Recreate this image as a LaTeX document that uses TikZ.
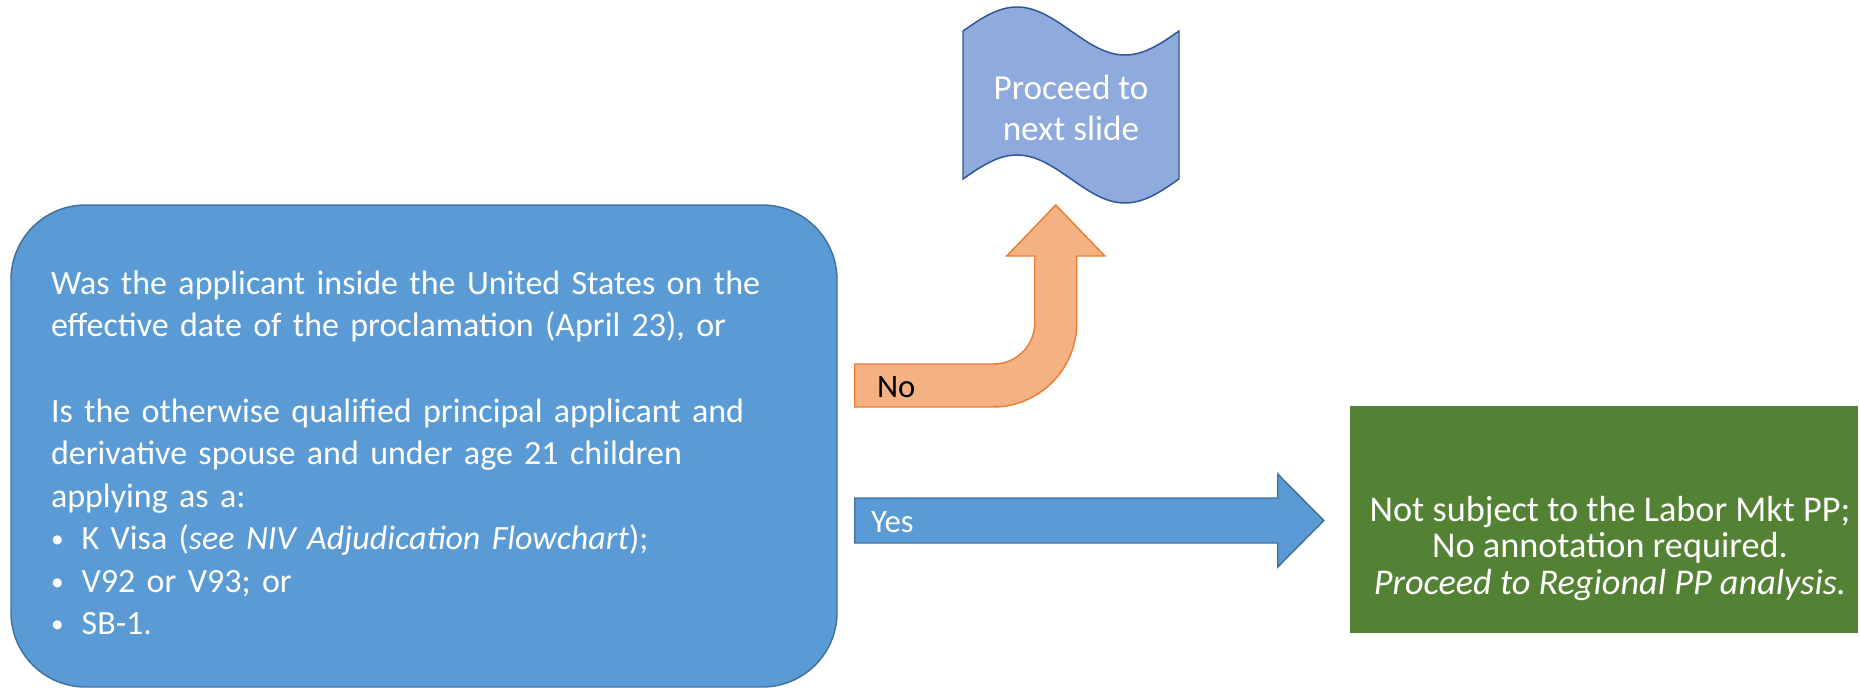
\documentclass[tikz,border=0pt]{standalone}
\usepackage{fontspec}
\setmainfont{Carlito}
\usetikzlibrary{calc}
\definecolor{qblue}{HTML}{5B9BD5}
\definecolor{qline}{HTML}{41719C}
\definecolor{wblue}{HTML}{8FAADC}
\definecolor{wline}{HTML}{2F5597}
\definecolor{norange}{HTML}{F4B183}
\definecolor{noline}{HTML}{ED7D31}
\definecolor{rgreen}{HTML}{548235}
\setlength{\lineskiplimit}{-20pt}
\tikzstyle{qbox}=[draw=qline, fill=qblue, line width=1.1pt, rounded corners=56pt, text=white, inner sep=0pt, minimum width=619.5pt, minimum height=361.5pt, text width=559.5pt, align=left, font=\fontsize{25.5}{31.9}\selectfont]
\tikzstyle{resbox}=[fill=rgreen, inner sep=0pt, minimum width=381pt, minimum height=170pt]
\tikzstyle{bigtext}=[text=white, align=center, inner sep=0pt, font=\fontsize{27.2}{27.4}\selectfont]
\tikzstyle{wave}=[draw=wline, fill=wblue, line width=1.1pt]
\tikzstyle{noarrow}=[draw=noline, fill=norange, line width=1.1pt]
\tikzstyle{yesarrow}=[draw=qline, fill=qblue, line width=1.1pt]
\tikzstyle{armtext}=[anchor=base west, inner sep=0pt, font=\fontsize{24.5}{29}\selectfont]
\newcommand{\qitem}[1]{\makebox[23pt][l]{\raisebox{1.5pt}{\fontsize{19}{19}\selectfont\textbullet}}#1}

\begin{document}
\begin{tikzpicture}[x=0.75pt, y=-0.75pt]
    \useasboundingbox (0, 0) rectangle (1860, 688);

    \node[qbox] (question) at (424, 446) {\rule{0pt}{28pt}Was the applicant inside the United States on the\\
        effective date of the proclamation (April 23), or\\[31.9pt]
        Is the otherwise qualified principal applicant and\\
        derivative spouse and under age 21 children\\
        applying as a:\\
        \qitem{K Visa (\textit{see NIV Adjudication Flowchart});}\\
        \qitem{V92 or V93; or}\\
        \qitem{SB-1.}};

    \node[resbox] (result) at (1604, 519.5) {};
    \node[bigtext] (restext) at ($(result.center) + (6, 29)$) {Not subject to the Labor Mkt PP;\\
        No annotation required.\\
        \textit{Proceed to Regional PP analysis.}};

    \coordinate (wavec) at (1071, 105);
    \draw[wave] ($(wavec) + (-108, -74)$) sin ++(54, -24) cos ++(54, 24) sin ++(54, 24) cos ++(54, -24)
        -- ++(0, 148) sin ++(-54, 24) cos ++(-54, -24) sin ++(-54, -24) cos ++(-54, 24) -- cycle;
    \node[bigtext, font=\fontsize{26.4}{30.5}\selectfont] (next) at ($(wavec) + (0, 3)$) {Proceed to\\next slide};

    \coordinate (ns) at ($(question.east) + (17, -60.5)$);
    \draw[noarrow] ($(ns) + (0, -21.5)$) -- ++(139, 0) arc[start angle=90, end angle=0, radius=41]
        -- ++(0, -67) -- ++(-28, 0) -- ++(49, -51) -- ++(49, 51) -- ++(-28, 0) -- ++(0, 67)
        arc[start angle=0, end angle=90, radius=84] -- ++(-138, 0) -- cycle;
    \node[armtext] (no) at ($(ns) + (22, 12)$) {No};

    \coordinate (ys) at ($(question.east |- result.west) + (17, 1)$);
    \draw[yesarrow] ($(ys) + (0, -22.5)$) -- ++(423, 0) -- ++(0, -24) -- ++(46, 46.5) -- ++(-46, 46.5)
        -- ++(0, -24) -- ++(-423, 0) -- cycle;
    \node[armtext, text=white] (yes) at ($(ys) + (16, 11.5)$) {Yes};
\end{tikzpicture}
\end{document}
